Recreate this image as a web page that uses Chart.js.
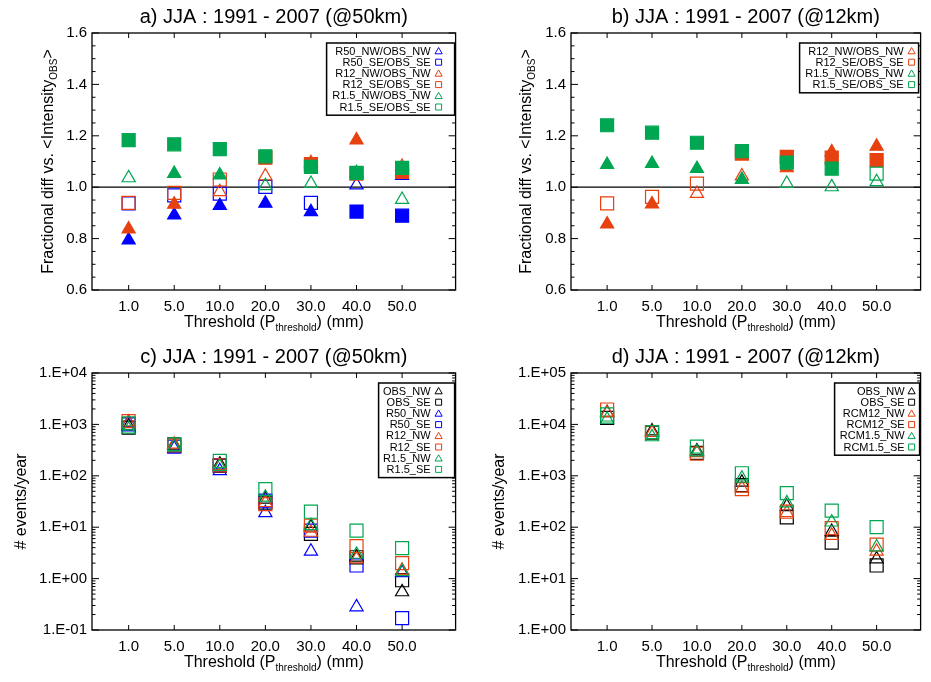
<!DOCTYPE html>
<html>
<head>
<meta charset="utf-8">
<script src="https://cdn.jsdelivr.net/npm/chart.js@4.4.1/dist/chart.umd.min.js"></script>
<style>
  body { margin: 0; background: #fff; }
  #wrap { position: relative; width: 931px; height: 682px; overflow: hidden; background: #fff; }
  canvas { position: absolute; }
</style>
</head>
<body>
<div id="wrap">
  <canvas id="pa" width="466" height="341" style="left:0;top:0"></canvas>
  <canvas id="pb" width="465" height="341" style="left:466px;top:0"></canvas>
  <canvas id="pc" width="466" height="341" style="left:0;top:341px"></canvas>
  <canvas id="pd" width="465" height="341" style="left:466px;top:341px"></canvas>
</div>
<script>
// thresholds on the x axis
const thresholds = ["1.0", "5.0", "10.0", "20.0", "30.0", "40.0", "50.0"];

// a) ratio of mean intensity, 50km (fill: 1 = filled symbol)
const aR50NW = [0.794, 0.891, 0.928, 0.937, 0.904, 1.008, 1.045];
const aR50NWFill = [1, 1, 1, 1, 1, 0, 0];
const aR50SE = [0.937, 0.968, 0.975, 1.001, 0.939, 0.905, 0.889];
const aR50SEFill = [0, 0, 0, 0, 0, 1, 1];
const aR12NW = [0.837, 0.933, 0.982, 1.043, 1.095, 1.183, 1.080];
const aR12NWFill = [1, 1, 0, 0, 0, 1, 0];
const aR12SE = [0.939, 0.978, 1.030, 1.115, 1.090, 1.053, 1.060];
const aR12SEFill = [0, 0, 0, 1, 1, 1, 1];
const aR15NW = [1.036, 1.053, 1.047, 1.005, 1.014, 1.056, 0.952];
const aR15NWFill = [0, 1, 1, 0, 0, 1, 0];
const aR15SE = [1.183, 1.167, 1.148, 1.120, 1.079, 1.056, 1.075];
const aR15SEFill = [1, 1, 1, 1, 1, 1, 1];

// b) ratio of mean intensity, 12km
const bR12NW = [0.856, 0.934, 0.975, 1.043, 1.075, 1.137, 1.159];
const bR12NWFill = [1, 1, 0, 0, 1, 1, 1];
const bR12SE = [0.937, 0.962, 1.014, 1.131, 1.118, 1.115, 1.105];
const bR12SEFill = [0, 0, 0, 1, 1, 1, 1];
const bR15NW = [1.088, 1.092, 1.072, 1.030, 1.014, 1.001, 1.021];
const bR15NWFill = [1, 1, 1, 1, 0, 0, 0];
const bR15SE = [1.241, 1.212, 1.173, 1.140, 1.096, 1.072, 1.053];
const bR15SEFill = [1, 1, 1, 1, 1, 1, 0];

// c) events per year, 50km
const cOBSNW = [929, 393, 168, 35, 10, 2.6, 0.55];
const cOBSSE = [862, 410, 156, 30, 7.4, 2.6, 0.93];
const cR50NW = [1080, 340, 125, 19, 3.4, 0.28, 1.3];
const cR50SE = [1000, 370, 161, 33, 8.6, 1.8, 0.17];
const cR12NW = [1110, 410, 156, 30, 7.9, 2.4, 1.45];
const cR12SE = [1160, 390, 160, 28, 10.7, 4.3, 2.0];
const cR15NW = [800, 365, 151, 38, 10.7, 2.95, 1.35];
const cR15SE = [1050, 410, 195, 55, 20, 8.6, 3.9];

// d) events per year, 12km
const dOBSNW = [16800, 7400, 3030, 745, 255, 82, 24];
const dOBSSE = [13400, 6900, 2800, 660, 156, 50, 18];
const dR12NW = [16800, 6900, 2800, 570, 190, 69, 34];
const dR12SE = [19500, 7100, 2700, 550, 200, 96, 46];
const dR15NW = [12500, 5700, 2900, 890, 296, 125, 41];
const dR15SE = [15600, 7100, 3700, 1120, 462, 210, 100];

const ratioTicks = [0.6, 0.8, 1.0, 1.2, 1.4, 1.6];
const countTicksC = [0.1, 1, 10, 100, 1000, 10000];
const countTicksD = [1, 10, 100, 1000, 10000, 100000];

const BLUE = "#0000ff", RED = "#e6410f", GREEN = "#00a651", BLACK = "#000000";
const FONT = '"Liberation Sans", Arial, Helvetica, sans-serif';

function series(label, values, fill, color, shape) {
    return {
        label: label,
        data: values.map((v, i) => ({ x: i, y: v })),
        pointStyle: shape,
        pointRadius: shape === "rect" ? 9.2 : 7.6,
        borderColor: color,
        pointBorderColor: color,
        pointBorderWidth: 1.2,
        pointBackgroundColor: fill ? fill.map(f => f ? color : "rgba(0,0,0,0)") : "rgba(0,0,0,0)",
        showLine: false
    };
}

function expLabel(v) {
    const e = Math.round(Math.log10(v));
    return "1.E" + (e < 0 ? "-" : "+") + String(Math.abs(e)).padStart(2, "0");
}

function line(ctx, x1, y1, x2, y2) {
    ctx.beginPath();
    ctx.moveTo(x1, y1);
    ctx.lineTo(x2, y2);
    ctx.stroke();
}

// draws text made of normal and subscript parts
function drawParts(ctx, parts, x, y) {
    const widths = parts.map(p => {
        ctx.font = p[1] ? "10px " + FONT : "16px " + FONT;
        return ctx.measureText(p[0]).width;
    });
    let cx = x - widths.reduce((s, w) => s + w, 0) / 2;
    ctx.textAlign = "left";
    ctx.textBaseline = "middle";
    parts.forEach((p, i) => {
        ctx.font = p[1] ? "10px " + FONT : "16px " + FONT;
        ctx.fillText(p[0], cx, y + (p[1] ? 5 : 0));
        cx += widths[i];
    });
}

const idlDecor = {
    id: "idlDecor",
    beforeDatasetsDraw(chart, args, o) {
        const ctx = chart.ctx, a = chart.chartArea, x = chart.scales.x, y = chart.scales.y;
        ctx.save();
        ctx.strokeStyle = "#000";
        ctx.lineWidth = 1;
        x.ticks.forEach(t => {
            const px = x.getPixelForValue(t.value);
            line(ctx, px, a.bottom, px, a.bottom - 5);
            line(ctx, px, a.top, px, a.top + 5);
        });
        y.ticks.forEach(t => {
            const py = y.getPixelForValue(t.value);
            line(ctx, a.left, py, a.left + 7, py);
            line(ctx, a.right, py, a.right - 7, py);
        });
        // minor ticks
        let minors = [];
        if (o.log) {
            const ticks = y.ticks.map(t => t.value);
            for (let k = 0; k < ticks.length - 1; k++) {
                for (let m = 2; m <= 9; m++) minors.push(ticks[k] * m);
            }
        } else {
            for (let v = 0.65; v < 1.6; v += 0.05) {
                if (Math.abs(v * 5 - Math.round(v * 5)) > 0.01) minors.push(v);
            }
        }
        minors.forEach(v => {
            const py = y.getPixelForValue(v);
            line(ctx, a.left, py, a.left + 3.5, py);
            line(ctx, a.right, py, a.right - 3.5, py);
        });
        ctx.lineWidth = 1.3;
        ctx.strokeRect(a.left, a.top, a.right - a.left, a.bottom - a.top);
        if (o.refLine != null) {
            const py = y.getPixelForValue(o.refLine);
            ctx.lineWidth = 1.2;
            line(ctx, a.left, py, a.right, py);
        }
        ctx.restore();
    },
    afterDraw(chart, args, o) {
        const ctx = chart.ctx, a = chart.chartArea;
        const midX = (a.left + a.right) / 2, midY = (a.top + a.bottom) / 2;
        ctx.save();
        ctx.fillStyle = "#000";
        // title
        ctx.font = "20px " + FONT;
        ctx.textAlign = "center";
        ctx.textBaseline = "middle";
        ctx.fillText(o.title, midX, a.top - 16);
        // x title
        drawParts(ctx, [["Threshold (P", false], ["threshold", true], [") (mm)", false]], midX, a.bottom + 33);
        // y title
        ctx.save();
        ctx.translate(o.yTitleX, midY);
        ctx.rotate(-Math.PI / 2);
        drawParts(ctx, o.yTitle, 0, 0);
        ctx.restore();
        // legend
        const L = o.legend, sets = chart.data.datasets;
        const top = a.top + 10, rowH = 11.2;
        ctx.lineWidth = 1.5;
        ctx.strokeStyle = "#000";
        ctx.fillStyle = "#fff";
        const h = sets.length * rowH + 5;
        ctx.fillRect(a.right - L.boxL, top, L.boxL - L.boxR, h);
        ctx.strokeRect(a.right - L.boxL, top, L.boxL - L.boxR, h);
        ctx.font = "11px " + FONT;
        ctx.textAlign = "right";
        ctx.textBaseline = "middle";
        sets.forEach((d, i) => {
            const ry = top + 8 + i * rowH;
            ctx.fillStyle = "#000";
            ctx.fillText(d.label, a.right - L.textR, ry + 0.5);
            const mx = a.right - L.mark;
            ctx.strokeStyle = d.borderColor;
            ctx.lineWidth = 1;
            ctx.beginPath();
            if (d.pointStyle === "triangle") {
                ctx.moveTo(mx, ry - 3.5);
                ctx.lineTo(mx + 3.6, ry + 2.8);
                ctx.lineTo(mx - 3.6, ry + 2.8);
                ctx.closePath();
            } else {
                ctx.rect(mx - 3, ry - 3, 6, 6);
            }
            ctx.stroke();
        });
        ctx.restore();
    }
};

function makePanel(id, p) {
    const n = p.datasets.length;
    p.datasets.forEach((d, i) => { d.order = n - i; });
    const tickFont = { family: FONT, size: 15 };
    const yScale = p.log ? {
        type: "logarithmic",
        min: p.yTicks[0],
        max: p.yTicks[p.yTicks.length - 1],
        afterBuildTicks: s => { s.ticks = p.yTicks.map(v => ({ value: v })); },
        ticks: { callback: v => expLabel(v), font: tickFont, color: "#000", padding: 5 }
    } : {
        type: "linear",
        min: 0.6,
        max: 1.6,
        afterBuildTicks: s => { s.ticks = p.yTicks.map(v => ({ value: v })); },
        ticks: { callback: v => v.toFixed(1), font: tickFont, color: "#000", padding: 5 }
    };
    yScale.grid = { display: false, drawTicks: false };
    yScale.border = { display: false };
    yScale.afterFit = s => { s.width = p.yW; };

    return new Chart(document.getElementById(id), {
        type: "scatter",
        data: { datasets: p.datasets },
        options: {
            responsive: false,
            animation: false,
            devicePixelRatio: 1,
            events: [],
            layout: { padding: { top: p.top, right: p.right, left: 0, bottom: 0 } },
            scales: {
                x: {
                    type: "linear",
                    min: -0.804,
                    max: p.xMax,
                    afterBuildTicks: s => { s.ticks = thresholds.map((t, i) => ({ value: i })); },
                    ticks: {
                        callback: (v, i) => thresholds[i],
                        font: tickFont, color: "#000", padding: 8,
                        maxRotation: 0, autoSkip: false
                    },
                    grid: { display: false, drawTicks: false },
                    border: { display: false },
                    afterFit: s => { s.height = p.xH; }
                },
                y: yScale
            },
            plugins: {
                legend: { display: false },
                tooltip: { enabled: false },
                idlDecor: {
                    title: p.title,
                    yTitle: p.yTitle,
                    yTitleX: p.yTitleX,
                    refLine: p.log ? null : 1.0,
                    log: p.log,
                    legend: p.legend
                }
            }
        },
        plugins: [idlDecor]
    });
}

const ratioTitle = [["Fractional diff vs. <Intensity", false], ["OBS", true], [">", false]];
const countTitle = [["# events/year", false]];

makePanel("pa", {
    title: "a) JJA : 1991 - 2007 (@50km)",
    yTitle: ratioTitle, yTitleX: 49, log: false, yTicks: ratioTicks,
    yW: 92, top: 33, right: 7, xH: 51, xMax: 7.174,
    legend: { boxL: 129, boxR: 1, textR: 25, mark: 17 },
    datasets: [
        series("R50_NW/OBS_NW", aR50NW, aR50NWFill, BLUE, "triangle"),
        series("R50_SE/OBS_SE", aR50SE, aR50SEFill, BLUE, "rect"),
        series("R12_NW/OBS_NW", aR12NW, aR12NWFill, RED, "triangle"),
        series("R12_SE/OBS_SE", aR12SE, aR12SEFill, RED, "rect"),
        series("R1.5_NW/OBS_NW", aR15NW, aR15NWFill, GREEN, "triangle"),
        series("R1.5_SE/OBS_SE", aR15SE, aR15SEFill, GREEN, "rect")
    ]
});

makePanel("pb", {
    title: "b) JJA : 1991 - 2007 (@12km)",
    yTitle: ratioTitle, yTitleX: 61, log: false, yTicks: ratioTicks,
    yW: 105, top: 33, right: 2, xH: 51, xMax: 6.979,
    legend: { boxL: 121, boxR: 2, textR: 17, mark: 9 },
    datasets: [
        series("R12_NW/OBS_NW", bR12NW, bR12NWFill, RED, "triangle"),
        series("R12_SE/OBS_SE", bR12SE, bR12SEFill, RED, "rect"),
        series("R1.5_NW/OBS_NW", bR15NW, bR15NWFill, GREEN, "triangle"),
        series("R1.5_SE/OBS_SE", bR15SE, bR15SEFill, GREEN, "rect")
    ]
});

makePanel("pc", {
    title: "c) JJA : 1991 - 2007 (@50km)",
    yTitle: countTitle, yTitleX: 22, log: true, yTicks: countTicksC,
    yW: 92, top: 32, right: 7, xH: 52, xMax: 7.174,
    legend: { boxL: 77, boxR: 1, textR: 25, mark: 17 },
    datasets: [
        series("OBS_NW", cOBSNW, null, BLACK, "triangle"),
        series("OBS_SE", cOBSSE, null, BLACK, "rect"),
        series("R50_NW", cR50NW, null, BLUE, "triangle"),
        series("R50_SE", cR50SE, null, BLUE, "rect"),
        series("R12_NW", cR12NW, null, RED, "triangle"),
        series("R12_SE", cR12SE, null, RED, "rect"),
        series("R1.5_NW", cR15NW, null, GREEN, "triangle"),
        series("R1.5_SE", cR15SE, null, GREEN, "rect")
    ]
});

makePanel("pd", {
    title: "d) JJA : 1991 - 2007 (@12km)",
    yTitle: countTitle, yTitleX: 34, log: true, yTicks: countTicksD,
    yW: 105, top: 32, right: 2, xH: 52, xMax: 6.979,
    legend: { boxL: 86, boxR: 1, textR: 16, mark: 9 },
    datasets: [
        series("OBS_NW", dOBSNW, null, BLACK, "triangle"),
        series("OBS_SE", dOBSSE, null, BLACK, "rect"),
        series("RCM12_NW", dR12NW, null, RED, "triangle"),
        series("RCM12_SE", dR12SE, null, RED, "rect"),
        series("RCM1.5_NW", dR15NW, null, GREEN, "triangle"),
        series("RCM1.5_SE", dR15SE, null, GREEN, "rect")
    ]
});
</script>
</body>
</html>
